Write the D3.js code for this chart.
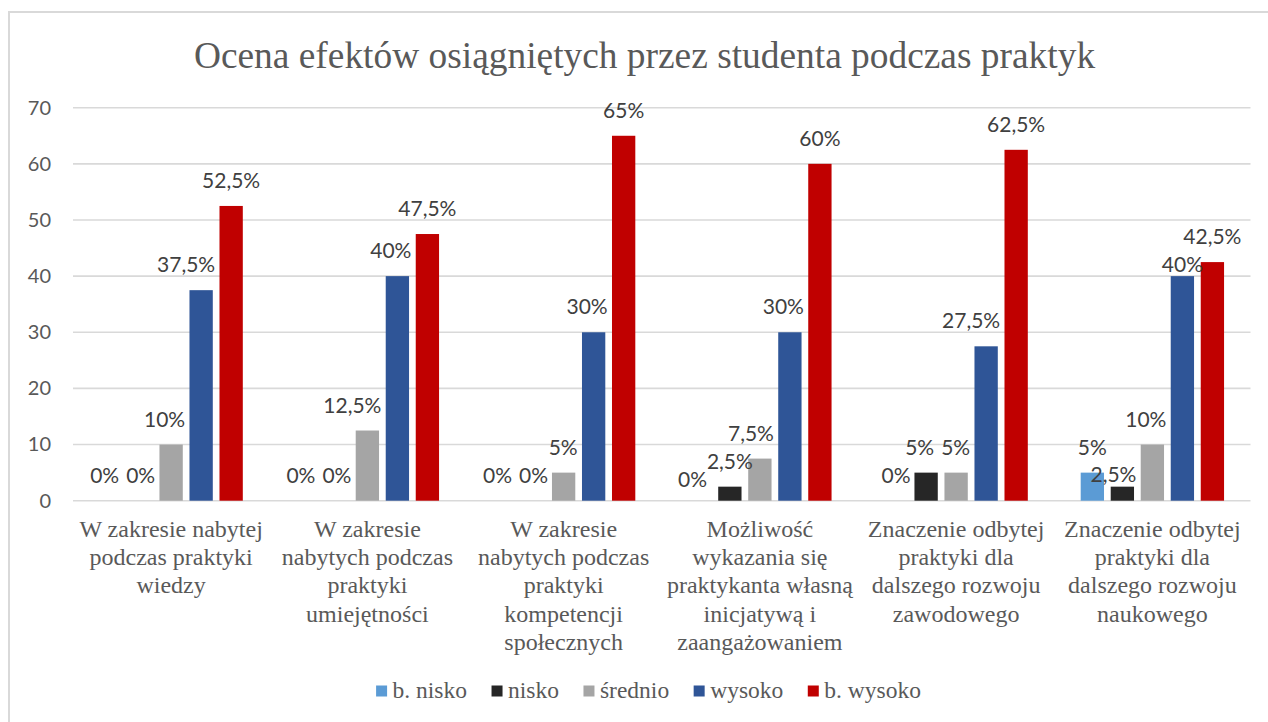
<!DOCTYPE html>
<html><head><meta charset="utf-8">
<script src="https://cdn.jsdelivr.net/npm/d3@7"></script>
<style>html,body{margin:0;padding:0;background:#fff;}svg{display:block;}</style>
</head><body>
<svg id="chart" width="1268" height="722"></svg>
<script>
const title = "Ocena efektów osiągniętych przez studenta podczas praktyk";
const categories = [
  ["W zakresie nabytej", "podczas praktyki", "wiedzy"],
  ["W zakresie", "nabytych podczas", "praktyki", "umiejętności"],
  ["W zakresie", "nabytych podczas", "praktyki", "kompetencji", "społecznych"],
  ["Możliwość", "wykazania się", "praktykanta własną", "inicjatywą i", "zaangażowaniem"],
  ["Znaczenie odbytej", "praktyki dla", "dalszego rozwoju", "zawodowego"],
  ["Znaczenie odbytej", "praktyki dla", "dalszego rozwoju", "naukowego"]
];
const seriesNames = ["b. nisko", "nisko", "średnio", "wysoko", "b. wysoko"];
const seriesColors = ["#5B9BD5", "#262626", "#A5A5A5", "#2F5597", "#C00000"];
const bNisko   = [0, 0, 0, 0, 0, 5];
const nisko    = [0, 0, 0, 2.5, 5, 2.5];
const srednio  = [10, 12.5, 5, 7.5, 5, 10];
const wysoko   = [37.5, 40, 30, 30, 27.5, 40];
const bWysoko  = [52.5, 47.5, 65, 60, 62.5, 42.5];
const yTicks = [0, 10, 20, 30, 40, 50, 60, 70];

const seriesValues = [bNisko, nisko, srednio, wysoko, bWysoko];

const svg = d3.select("#chart");
const plot = {left: 73, right: 1250.5, top: 107.7, bottom: 500.7};

// outer border
svg.append("rect").attr("x", 9).attr("y", 12).attr("width", 1300).attr("height", 800)
  .attr("fill", "#fff").attr("stroke", "#d9d9d9").attr("stroke-width", 2);

// title
svg.append("text").attr("x", 644.5).attr("y", 68).attr("text-anchor", "middle")
  .attr("font-family", "'Liberation Serif', 'Times New Roman', serif").attr("font-size", 37.4)
  .attr("fill", "#595959").text(title);

const x0 = d3.scaleBand().domain(d3.range(categories.length)).range([plot.left, plot.right]).paddingInner(0).paddingOuter(0);
const groupW = x0.bandwidth() * 0.7305;
const x1 = d3.scaleBand().domain(d3.range(seriesNames.length))
  .range([-groupW / 2, groupW / 2]).paddingInner(0.223).paddingOuter(0);
const y = d3.scaleLinear().domain([0, 70]).range([plot.bottom, plot.top]);

// gridlines
svg.append("g").selectAll("line").data(yTicks).join("line")
  .attr("x1", plot.left).attr("x2", plot.right)
  .attr("y1", d => y(d)).attr("y2", d => y(d))
  .attr("stroke", "#d9d9d9").attr("stroke-width", 1.6);

// y axis labels
const yAxis = d3.axisLeft(y).tickValues(yTicks).tickSize(0).tickPadding(0).tickFormat(d3.format("d"));
const gy = svg.append("g").attr("transform", `translate(${plot.left - 22},0)`).call(yAxis);
gy.select(".domain").remove();
gy.selectAll("text").attr("font-family", "Lato, 'Open Sans', sans-serif").attr("font-size", 20)
  .attr("fill", "#595959");

// bars
const fmt = v => (v + "").replace(".", ",") + "%";
const groups = svg.append("g").selectAll("g").data(categories).join("g")
  .attr("transform", (d, i) => `translate(${x0(i) + x0.bandwidth() / 2},0)`);

const CAP = 15, HGAP = 7, VGAP = 12.5, BARGAP = 4.3, LABEL_OFF = 18;

groups.each(function(cat, ci) {
  const g = d3.select(this);
  const data = seriesValues.map((arr, si) => ({si, v: arr[ci]}));
  g.selectAll("rect").data(data).join("rect")
    .attr("x", d => x1(d.si)).attr("width", x1.bandwidth())
    .attr("y", d => y(d.v)).attr("height", d => y(0) - y(d.v))
    .attr("fill", d => seriesColors[d.si]);
  const texts = g.selectAll("text.lbl").data(data).join("text").attr("class", "lbl")
    .attr("text-anchor", "middle")
    .attr("font-family", "Lato, 'Open Sans', sans-serif").attr("font-size", 21)
    .attr("fill", "#404040").text(d => fmt(d.v));
  // label placement with simple collision avoidance (like the spreadsheet's)
  const labels = data.map(d => ({d, cx: x1(d.si) + x1.bandwidth() / 2, base: y(d.v) - LABEL_OFF, w: 0}));
  texts.each(function(d, i) { labels[i].w = this.getComputedTextLength(); });
  const n = labels.length;
  for (let i = n - 1; i >= 0; i--) {
    const L = labels[i];
    if (i < n - 1) {
      const nbTop = y(data[i + 1].v), nbLeft = x1(i + 1);
      if (nbTop < L.base - CAP) {
        const maxRight = nbLeft - BARGAP;
        if (L.cx + L.w / 2 > maxRight) L.cx = maxRight - L.w / 2;
      }
    }
    for (let j = i + 1; j < n; j++) {
      const R = labels[j];
      const hNeed = (L.cx + L.w / 2 + HGAP) - (R.cx - R.w / 2);
      const vOv = Math.min(L.base, R.base) - Math.max(L.base - CAP, R.base - CAP);
      if (hNeed > 0 && vOv > 0) {
        if (L.d.v === R.d.v) {
          L.cx -= hNeed;
        } else if (L.d.v < R.d.v && hNeed <= 15) {
          L.cx -= hNeed / 2;
          L.base += vOv + 3;
        } else {
          const lower = L.d.v <= R.d.v ? L : R;
          const other = lower === L ? R : L;
          lower.base = other.base + VGAP + CAP;
        }
      }
    }
  }
  texts.attr("x", (d, i) => labels[i].cx).attr("y", (d, i) => labels[i].base);
  // category label
  const t = g.append("text").attr("text-anchor", "middle")
    .attr("font-family", "'Liberation Serif', 'Times New Roman', serif").attr("font-size", 24)
    .attr("fill", "#595959");
  t.selectAll("tspan").data(cat).join("tspan")
    .attr("x", 0).attr("y", (d, i) => 536.7 + i * 28.3).text(d => d);
});

// legend
const leg = svg.append("g");
const items = leg.selectAll("g").data(seriesNames).join("g");
items.append("rect").attr("width", 11).attr("height", 11).attr("y", 685.5)
  .attr("fill", (d, i) => seriesColors[i]);
items.append("text").attr("x", 16.5).attr("y", 698)
  .attr("font-family", "'Liberation Serif', 'Times New Roman', serif").attr("font-size", 23.5)
  .attr("fill", "#595959").text(d => d);
let cx = 0;
const offs = [];
items.each(function() {
  const tw = d3.select(this).select("text").node().getComputedTextLength();
  offs.push(cx);
  cx += 16.5 + tw + 24.5;
});
const total = cx - 24.5;
const startX = 648.5 - total / 2;
items.attr("transform", (d, i) => `translate(${startX + offs[i]},0)`);
</script>
</body></html>
